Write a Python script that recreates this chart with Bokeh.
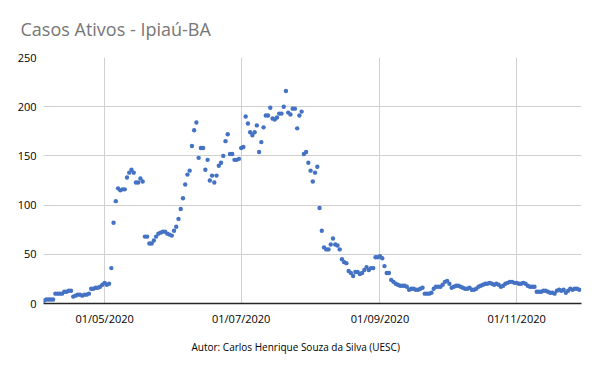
import pandas as pd
from bokeh.plotting import figure
from bokeh.models import ColumnDataSource, FixedTicker, DatetimeTickFormatter, Range1d, Title
from bokeh.embed import file_html
from bokeh.resources import INLINE

# ---------------- data ----------------
title_text = "Casos Ativos - Ipiaú-BA"
footer_text = "Autor: Carlos Henrique Souza da Silva (UESC)"
start_date = "2020-04-04"
active_cases = [
    3, 4, 4, 4, 4,
    10, 10, 10, 10,
    12, 12, 13, 13,
    7, 8, 9, 9, 8, 9, 9,
    10,
    15, 15, 16, 16, 17,
    19, 21, 19, 20,
    36, 82, 104, 117, 115, 116, 116, 128, 133, 136, 133, 123, 123, 127, 124,
    68, 68, 61, 61, 64, 68, 71, 72, 73, 73, 71, 70, 69,
    74, 78, 86, 96, 107, 121, 131, 135, 160, 176, 184,
    148, 158, 158, 136, 146, 125, 130, 123, 130, 140, 143, 150, 165, 172, 152, 152, 146, 146, 147,
    158, 159, 190, 183, 174, 171, 174, 181, 154, 164, 179, 191, 191, 199, 188, 187, 189, 193, 193, 200,
    216, 194, 192, 198, 198, 178, 191, 195,
    152, 154, 143, 135, 124, 133, 139, 97, 74, 57, 55, 55, 60, 66, 60, 59, 55, 45, 42, 41,
    33, 31, 28, 32, 32, 30, 31, 34, 37, 34, 36, 36,
    47, 47, 48, 46, 38, 31, 31, 24, 22, 20, 19, 18, 18, 18, 17, 14, 15, 15, 14, 14,
    15, 16, 10, 10, 10, 11, 15, 17, 17, 17,
    19, 22, 23, 20, 16, 17, 18, 18, 17, 16, 15, 15, 16, 14, 14, 15, 17, 18, 19, 20,
    20, 21, 20, 19, 20, 19, 17, 18, 20, 21, 22, 22, 21, 21,
    20, 20, 21, 20, 18, 17, 17, 17, 12, 12, 12, 13, 13, 12, 11, 11, 10, 13, 14, 13,
    14, 11, 13, 15, 14, 15, 15, 14,
]
x_tick_dates = ["2020-05-01", "2020-07-01", "2020-09-01", "2020-11-01"]
y_ticks = [0, 50, 100, 150, 200, 250]

# ---------------- build ----------------
dates = pd.date_range(start_date, periods=len(active_cases), freq="D")
source = ColumnDataSource(data=dict(date=dates, cases=active_cases))

x_start = (dates[0] - pd.Timedelta(hours=7)).to_pydatetime()
x_end = (dates[-1] + pd.Timedelta(days=1)).to_pydatetime()

p = figure(
    frame_width=538, frame_height=246,
    x_axis_type="datetime",
    x_range=Range1d(x_start, x_end),
    y_range=Range1d(min(y_ticks), max(y_ticks)),
    output_backend="svg", toolbar_location=None,
    min_border_left=43, min_border_right=3,
    min_border_top=57, min_border_bottom=52,
)
p.outline_line_color = None
p.background_fill_color = "white"
p.border_fill_color = "white"

# title
p.title.text = title_text
p.title.text_font = "Open Sans"
p.title.text_font_size = "18px"
p.title.text_font_style = "normal"
p.title.text_color = "#767676"
p.title.align = "left"
p.title.vertical_align = "top"
p.title.offset = -23
p.title.standoff = 30

# footer
p.add_layout(Title(text=footer_text, align="left", offset=148,
                   text_font="Open Sans", text_font_size="10px",
                   text_font_style="normal", text_color="#000000",
                   standoff=19), "below")

tick_ms = [int(t) for t in (pd.to_datetime(x_tick_dates).astype("int64") // 10**6)]
p.xaxis.ticker = FixedTicker(ticks=tick_ms)
p.xaxis.formatter = DatetimeTickFormatter(
    days="%d/%m/%Y", months="%d/%m/%Y", years="%d/%m/%Y",
    hours="%d/%m/%Y", minutes="%d/%m/%Y", seconds="%d/%m/%Y",
    milliseconds="%d/%m/%Y", microseconds="%d/%m/%Y",
)
p.yaxis.ticker = FixedTicker(ticks=y_ticks)

for ax in (p.xaxis, p.yaxis):
    ax.major_tick_line_color = None
    ax.minor_tick_line_color = None
    ax.major_tick_out = 0
    ax.major_tick_in = 0
    ax.minor_tick_out = 0
    ax.minor_tick_in = 0
    ax.major_label_text_font = "Open Sans"
    ax.major_label_text_font_size = "11px"
    ax.major_label_text_color = "#000000"
p.xaxis.axis_line_color = "#262626"
p.xaxis.axis_line_width = 1.3
p.xaxis.major_label_standoff = 7
p.yaxis.axis_line_color = None
p.yaxis.major_label_standoff = 7

p.xgrid.ticker = FixedTicker(ticks=tick_ms)
p.xgrid.grid_line_color = "#d0d0d0"
p.ygrid.grid_line_color = "#d0d0d0"

p.scatter("date", "cases", source=source, marker="circle", size=4.4,
          fill_color="#4472C4", line_color=None)

open("out.html", "w").write(file_html(p, INLINE))
